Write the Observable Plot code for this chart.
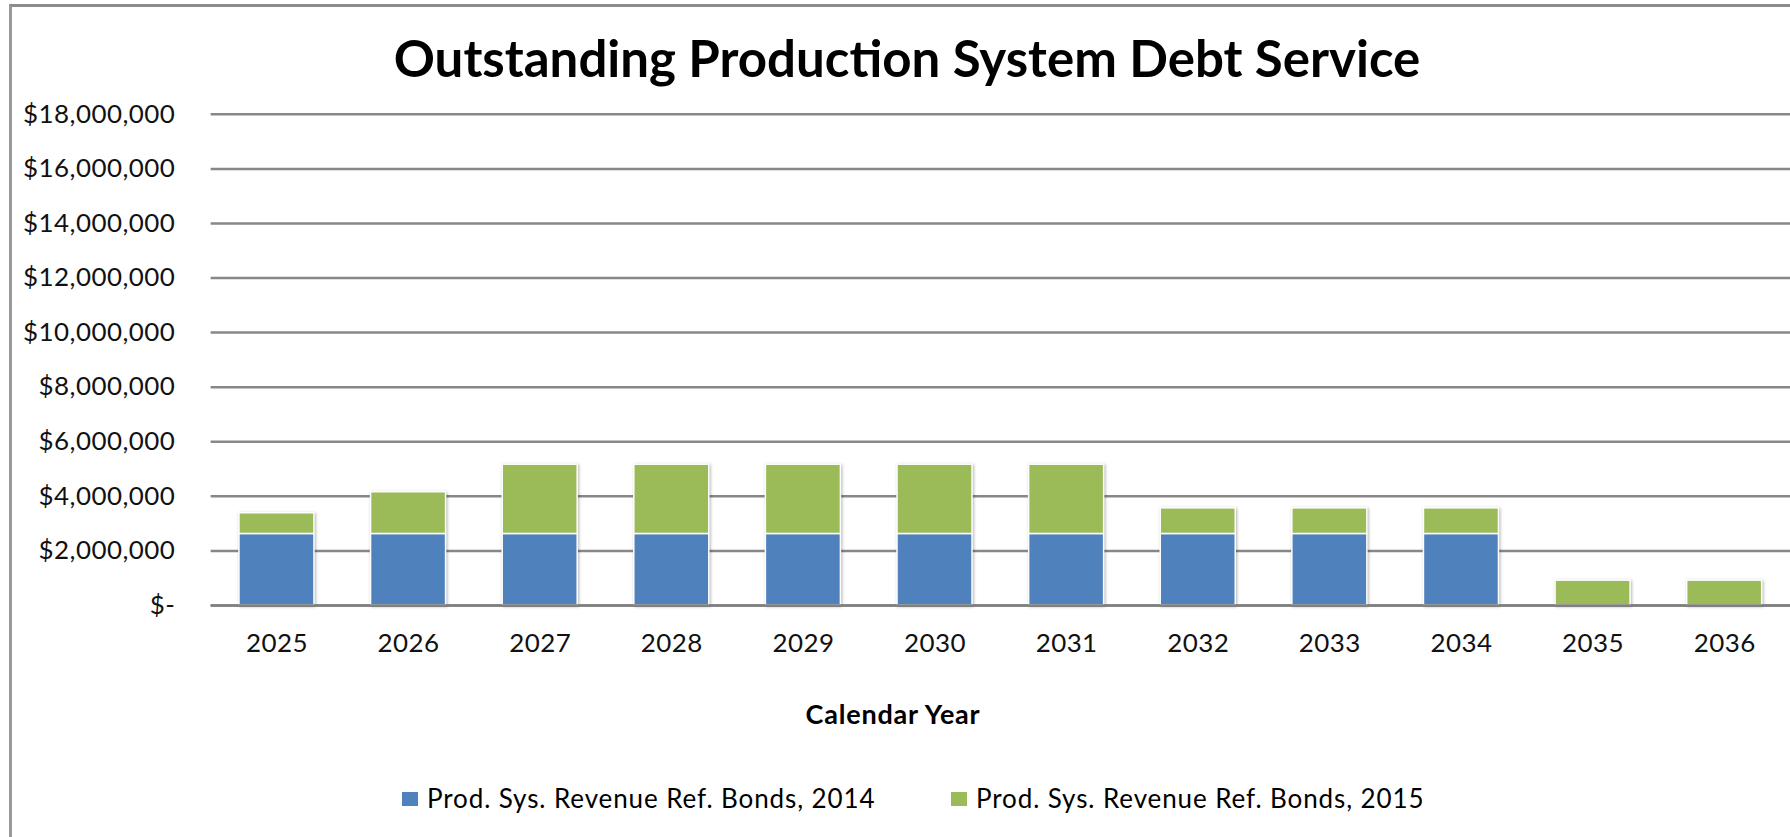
<!DOCTYPE html>
<html>
<head>
<meta charset="utf-8">
<script src="https://cdn.jsdelivr.net/npm/d3@7"></script>
<script src="https://cdn.jsdelivr.net/npm/@observablehq/plot@0.6"></script>
<style>
  html, body { margin: 0; padding: 0; background: #fff; }
  #wrap { position: relative; width: 1790px; height: 837px; overflow: hidden; font-family: Lato, "Open Sans", sans-serif; color: #000; }
  #frame { position: absolute; left: 9px; top: 4px; width: 1800px; height: 900px; border-left: 3px solid #999; border-top: 3px solid #8c8c8c; box-sizing: border-box; }
  #chart { position: absolute; left: 0; top: 0; }
  #chart svg text { letter-spacing: 0.45px; }
  #title { position: absolute; left: 907px; top: 30px; transform: translateX(-50%); white-space: nowrap; font-weight: 700; font-size: 51px; line-height: 56px; }
  #xlabel { position: absolute; left: 893px; top: 699px; transform: translateX(-50%); white-space: nowrap; font-weight: 700; font-size: 27px; letter-spacing: 0.8px; line-height: 30px; }
  #legend { position: absolute; left: 0; top: 783px; width: 1790px; height: 30px; font-size: 26px; letter-spacing: 0.9px; line-height: 30px; }
  .sw { position: absolute; top: 9px; width: 16px; height: 14px; }
  .lt { position: absolute; top: 0; white-space: nowrap; }
  g[aria-label="bar"] { filter: drop-shadow(1px 1px 1.5px rgba(0,0,0,0.3)); }
</style>
</head>
<body>
<div id="wrap">
  <div id="frame"></div>
  <div id="chart"></div>
  <div id="title"></div>
  <div id="xlabel"></div>
  <div id="legend"></div>
</div>
<script>
// ---- data ----
const titleText = "Outstanding Production System Debt Service";
const xAxisTitle = "Calendar Year";
const years = ["2025","2026","2027","2028","2029","2030","2031","2032","2033","2034","2035","2036"];
const seriesNames = ["Prod. Sys. Revenue Ref. Bonds, 2014", "Prod. Sys. Revenue Ref. Bonds, 2015"];
const seriesColors = ["#4F81BD", "#9BBB59"];
const bonds2014 = [2620000, 2620000, 2620000, 2620000, 2620000, 2620000, 2620000, 2620000, 2620000, 2620000, 0, 0];
const bonds2015 = [760000, 1530000, 2540000, 2540000, 2540000, 2540000, 2540000, 940000, 940000, 940000, 910000, 910000];
const yTicks = [0, 2000000, 4000000, 6000000, 8000000, 10000000, 12000000, 14000000, 16000000, 18000000];

// ---- table ----
const rows = [];
years.forEach((y, i) => {
  rows.push({year: y, series: seriesNames[0], value: bonds2014[i]});
  rows.push({year: y, series: seriesNames[1], value: bonds2015[i]});
});

const fmt = d3.format(",");
const yFmt = d => d === 0 ? "$-" : "$" + fmt(d);

const plot = Plot.plot({
  width: 1793,
  height: 837,
  marginTop: 114,
  marginBottom: 231,
  marginLeft: 211,
  marginRight: 0,
  style: { fontFamily: "Lato, 'Open Sans', sans-serif", fontSize: "26px", color: "#000", background: "transparent" },
  x: { domain: years, paddingInner: 0.43, paddingOuter: 0.215, round: false, label: null },
  y: { domain: [0, 18000000], label: null },
  color: { domain: seriesNames, range: seriesColors },
  marks: [
    Plot.gridY(yTicks, { stroke: "#878787", strokeOpacity: 1, strokeWidth: 2.5 }),
    Plot.barY(rows, Plot.stackY({ x: "year", y: "value", fill: "series", stroke: "#fff", strokeWidth: 1.5, order: seriesNames })),
    Plot.ruleY([0], { stroke: "#7f7f7f", strokeWidth: 2.5 }),
    Plot.axisY(yTicks, { tickSize: 0, tickPadding: 36, tickFormat: yFmt, label: null, fill: "#111" }),
    Plot.axisX({ tickSize: 0, tickPadding: 28, label: null, fill: "#111" })
  ]
});
document.getElementById("chart").appendChild(plot);

document.getElementById("title").textContent = titleText;
document.getElementById("xlabel").textContent = xAxisTitle;

const legendPos = [[402, 427], [951, 976]];
const leg = document.getElementById("legend");
seriesNames.forEach((name, i) => {
  const sw = document.createElement("div");
  sw.className = "sw";
  sw.style.left = legendPos[i][0] + "px";
  sw.style.background = seriesColors[i];
  leg.appendChild(sw);
  const t = document.createElement("div");
  t.className = "lt";
  t.style.left = legendPos[i][1] + "px";
  t.textContent = name;
  leg.appendChild(t);
});
</script>
</body>
</html>
